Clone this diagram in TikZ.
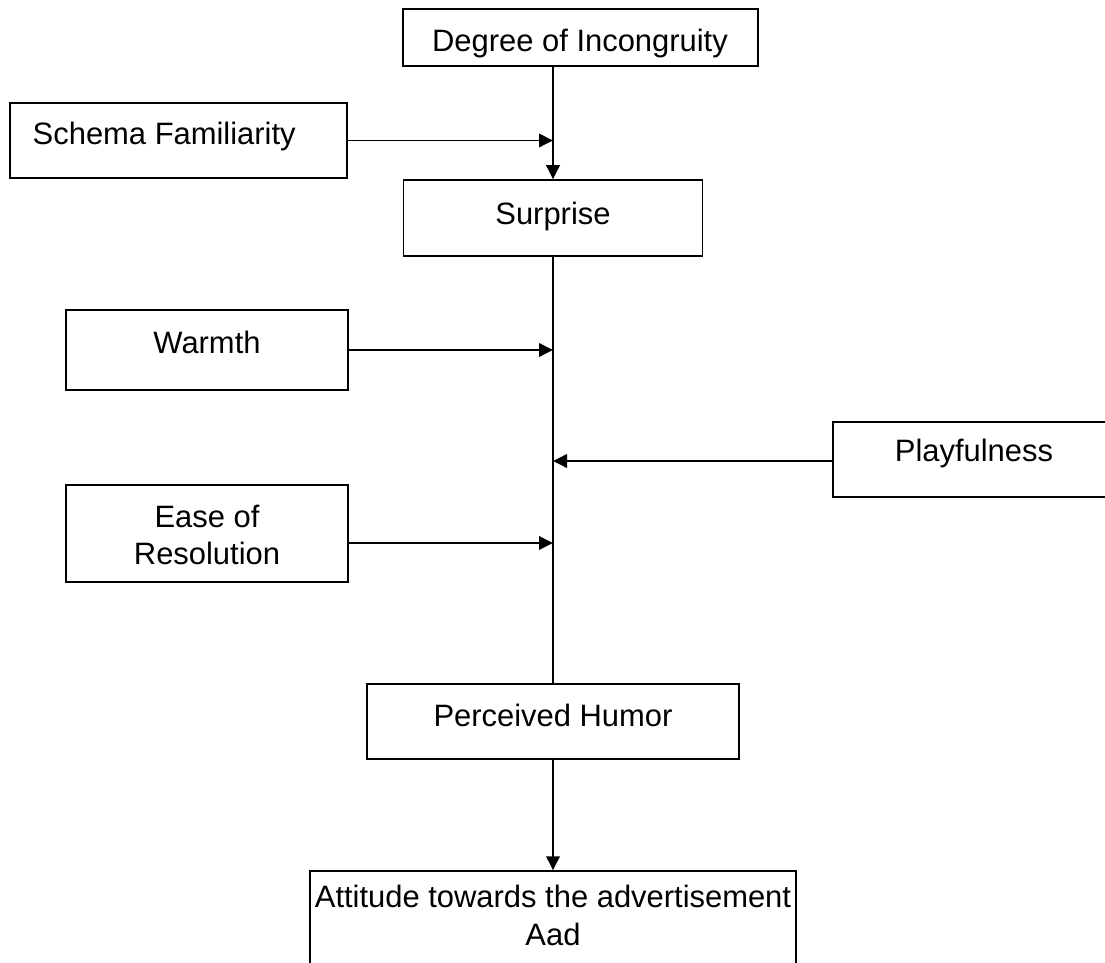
\documentclass[tikz,border=0pt]{standalone}
\usepackage{fontspec}
\setmainfont{Liberation Sans}
\usetikzlibrary{arrows.meta}

\begin{document}
\begin{tikzpicture}[
		every node/.style={rectangle, draw, line width=0.85pt, inner sep=0pt},
		txt/.style={draw=none, font=\fontsize{17.6pt}{21.5pt}\selectfont, text height=12.6pt, text depth=0pt},
		txt2/.style={draw=none, font=\fontsize{17.6pt}{21.5pt}\selectfont, align=center},
		link/.style={line width=1.1pt},
		>={Triangle[length=2.8mm, width=2.7mm]}
	]
  \useasboundingbox (0cm, 0cm) rectangle (22.1cm, -19.26cm);
  \clip (0cm, 0cm) rectangle (22.1cm, -19.26cm);
  % boxes
  \node (degree) [minimum width=7.1cm, minimum height=1.14cm] at (11.61cm, -0.75cm) {};
  \node (degree_label) [txt] at (11.6cm, -0.8cm) {Degree of Incongruity};
  \node (schema) [minimum width=6.74cm, minimum height=1.5cm] at (3.57cm, -2.81cm) {};
  \node (schema_label) [txt, anchor=west] at (0.64cm, -2.66cm) {Schema Familiarity};
  \node (surprise) [minimum width=5.98cm, minimum height=1.52cm] at (11.06cm, -4.36cm) {};
  \node (surprise_label) [txt] at (11.06cm, -4.26cm) {Surprise};
  \node (warmth) [minimum width=5.64cm, minimum height=1.6cm] at (4.14cm, -7cm) {};
  \node (warmth_label) [txt] at (4.14cm, -6.84cm) {Warmth};
  \node (playful) [minimum width=5.64cm, minimum height=1.5cm] at (19.48cm, -9.19cm) {};
  \node (playful_label) [txt] at (19.48cm, -9cm) {Playfulness};
  \node (ease) [minimum width=5.64cm, minimum height=1.94cm] at (4.14cm, -10.67cm) {};
  \node (ease_label) [txt2] at (4.14cm, -10.7cm) {Ease of\\Resolution};
  \node (humor) [minimum width=7.44cm, minimum height=1.5cm] at (11.06cm, -14.43cm) {};
  \node (humor_label) [txt] at (11.06cm, -14.3cm) {Perceived Humor};
  \node (aad) [minimum width=9.72cm, minimum height=2.58cm] at (11.06cm, -18.71cm) {};
  \node (aad_label) [txt2] at (11.06cm, -18.31cm) {Attitude towards the advertisement\\Aad};
  % joins on the main line
  \coordinate (j_schema) at (11.06cm, -2.81cm);
  \coordinate (j_warmth) at (11.06cm, -7cm);
  \coordinate (j_playful) at (11.06cm, -9.22cm);
  \coordinate (j_ease) at (11.06cm, -10.86cm);
  % connectors
  \draw[link, ->] (degree.south -| surprise.north) -- (surprise.north);
  \draw[link, ->] (schema.east) -- (j_schema);
  \draw[link] (surprise.south) -- (humor.north);
  \draw[link, ->] (warmth.east) -- (j_warmth);
  \draw[link, ->] (playful.west |- j_playful) -- (j_playful);
  \draw[link, ->] (ease.east |- j_ease) -- (j_ease);
  \draw[link, ->] (humor.south) -- (aad.north);
\end{tikzpicture}
\end{document}
